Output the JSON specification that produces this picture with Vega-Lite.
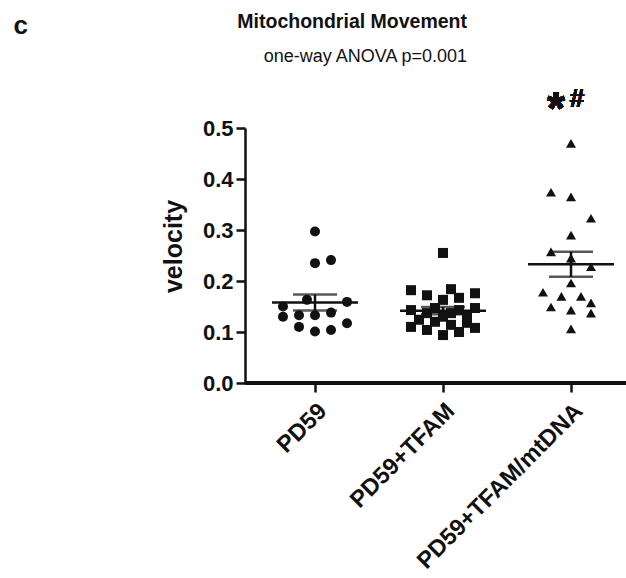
{
  "$schema": "https://vega.github.io/schema/vega-lite/v6.json",
  "width": 381,
  "height": 255,
  "autosize": {"type": "none"},
  "padding": {"left": 245, "top": 128, "right": 0, "bottom": 195},
  "background": "white",
  "title": {
    "text": "Mitochondrial Movement",
    "subtitle": "one-way ANOVA p=0.001",
    "anchor": "end",
    "frame": "group",
    "dx": -159,
    "offset": -55,
    "font": "Liberation Sans",
    "fontSize": 19.5,
    "fontWeight": "bold",
    "color": "#111",
    "subtitleFont": "Liberation Sans",
    "subtitleFontSize": 18,
    "subtitleColor": "#111",
    "subtitlePadding": 16
  },
  "config": {
    "view": {"stroke": null},
    "font": "Liberation Sans",
    "axis": {"grid": false}
  },
  "data": {
    "values": [
      {"group": "PD59", "lane": 0, "velocity": 0.297},
      {"group": "PD59", "lane": 0, "velocity": 0.235},
      {"group": "PD59", "lane": 2, "velocity": 0.241},
      {"group": "PD59", "lane": -1, "velocity": 0.163},
      {"group": "PD59", "lane": 4, "velocity": 0.159},
      {"group": "PD59", "lane": -4, "velocity": 0.150},
      {"group": "PD59", "lane": -4, "velocity": 0.130},
      {"group": "PD59", "lane": -2, "velocity": 0.133},
      {"group": "PD59", "lane": 0, "velocity": 0.133},
      {"group": "PD59", "lane": 2, "velocity": 0.138},
      {"group": "PD59", "lane": -2, "velocity": 0.110},
      {"group": "PD59", "lane": 0, "velocity": 0.101},
      {"group": "PD59", "lane": 2, "velocity": 0.104},
      {"group": "PD59", "lane": 4, "velocity": 0.117},
      {"group": "PD59+TFAM", "lane": 0, "velocity": 0.255},
      {"group": "PD59+TFAM", "lane": -4, "velocity": 0.182},
      {"group": "PD59+TFAM", "lane": -2, "velocity": 0.172},
      {"group": "PD59+TFAM", "lane": 1, "velocity": 0.184},
      {"group": "PD59+TFAM", "lane": 4, "velocity": 0.176},
      {"group": "PD59+TFAM", "lane": 2, "velocity": 0.167},
      {"group": "PD59+TFAM", "lane": 0, "velocity": 0.163},
      {"group": "PD59+TFAM", "lane": -4, "velocity": 0.143},
      {"group": "PD59+TFAM", "lane": 4, "velocity": 0.147},
      {"group": "PD59+TFAM", "lane": -2, "velocity": 0.137},
      {"group": "PD59+TFAM", "lane": 1, "velocity": 0.137},
      {"group": "PD59+TFAM", "lane": -1, "velocity": 0.147},
      {"group": "PD59+TFAM", "lane": 2, "velocity": 0.143},
      {"group": "PD59+TFAM", "lane": -4, "velocity": 0.110},
      {"group": "PD59+TFAM", "lane": -2, "velocity": 0.104},
      {"group": "PD59+TFAM", "lane": 0, "velocity": 0.094},
      {"group": "PD59+TFAM", "lane": 2, "velocity": 0.100},
      {"group": "PD59+TFAM", "lane": 4, "velocity": 0.108},
      {"group": "PD59+TFAM", "lane": -1, "velocity": 0.120},
      {"group": "PD59+TFAM", "lane": 1, "velocity": 0.114},
      {"group": "PD59+TFAM", "lane": 3, "velocity": 0.118},
      {"group": "PD59+TFAM", "lane": -3, "velocity": 0.124},
      {"group": "PD59+TFAM", "lane": 0, "velocity": 0.130},
      {"group": "PD59+TFAM", "lane": 3, "velocity": 0.130},
      {"group": "PD59+TFAM/mtDNA", "lane": 0, "velocity": 0.470},
      {"group": "PD59+TFAM/mtDNA", "lane": -2.5, "velocity": 0.374},
      {"group": "PD59+TFAM/mtDNA", "lane": 0, "velocity": 0.365},
      {"group": "PD59+TFAM/mtDNA", "lane": 2.5, "velocity": 0.323},
      {"group": "PD59+TFAM/mtDNA", "lane": 0, "velocity": 0.290},
      {"group": "PD59+TFAM/mtDNA", "lane": -2.5, "velocity": 0.257},
      {"group": "PD59+TFAM/mtDNA", "lane": 0, "velocity": 0.245},
      {"group": "PD59+TFAM/mtDNA", "lane": 2.5, "velocity": 0.228},
      {"group": "PD59+TFAM/mtDNA", "lane": 0, "velocity": 0.196},
      {"group": "PD59+TFAM/mtDNA", "lane": -3.5, "velocity": 0.178},
      {"group": "PD59+TFAM/mtDNA", "lane": -1.2, "velocity": 0.170},
      {"group": "PD59+TFAM/mtDNA", "lane": 1.25, "velocity": 0.170},
      {"group": "PD59+TFAM/mtDNA", "lane": 2.5, "velocity": 0.157},
      {"group": "PD59+TFAM/mtDNA", "lane": -2.5, "velocity": 0.149},
      {"group": "PD59+TFAM/mtDNA", "lane": 0, "velocity": 0.143},
      {"group": "PD59+TFAM/mtDNA", "lane": 2.5, "velocity": 0.137},
      {"group": "PD59+TFAM/mtDNA", "lane": 0, "velocity": 0.106}
    ]
  },
  "layer": [
    {
      "mark": {"type": "rule", "color": "#111", "strokeWidth": 2.5},
      "encoding": {"y": {"datum": 0, "type": "quantitative"}}
    },
    {
      "mark": {"type": "point", "filled": true, "opacity": 1, "color": "#111", "size": 100},
      "encoding": {
        "x": {
          "field": "group", "type": "nominal", "title": "c",
          "sort": ["PD59", "PD59+TFAM", "PD59+TFAM/mtDNA"],
          "scale": {"type": "band", "range": [6, 390], "paddingInner": 0, "paddingOuter": 0},
          "axis": {
            "domain": false, "labelAngle": -45, "labelAlign": "right", "labelBaseline": "middle",
            "labelFont": "Liberation Sans", "labelFontSize": 23.5, "labelFontWeight": "bold", "labelColor": "#111",
            "labelPadding": 15, "labelOffset": 8, "labelLimit": 400,
            "ticks": true, "tickSize": 9, "tickWidth": 2.5, "tickColor": "#111",
            "titleX": -232, "titleY": -350, "titleAngle": 0, "titleAlign": "left", "titleBaseline": "alphabetic",
            "titleFont": "Liberation Sans", "titleFontSize": 26, "titleFontWeight": "bold", "titleColor": "#111"
          }
        },
        "xOffset": {"field": "lane", "type": "quantitative", "scale": {"domain": [-8, 8]}},
        "y": {
          "field": "velocity", "type": "quantitative", "title": "velocity",
          "scale": {"domain": [0, 0.5], "nice": false},
          "axis": {
            "values": [0, 0.1, 0.2, 0.3, 0.4, 0.5], "format": ".1f",
            "labelFont": "Liberation Sans", "labelFontSize": 22, "labelFontWeight": "bold", "labelColor": "#111",
            "labelPadding": 3, "tickSize": 9, "tickWidth": 2.5, "tickColor": "#111",
            "domainWidth": 2.5, "domainColor": "#111",
            "titleFont": "Liberation Sans", "titleFontSize": 25, "titleFontWeight": "bold", "titleColor": "#111",
            "titlePadding": 16, "titleY": 118
          }
        },
        "shape": {
          "field": "group", "type": "nominal", "legend": null,
          "scale": {"domain": ["PD59", "PD59+TFAM", "PD59+TFAM/mtDNA"], "range": ["circle", "square", "triangle-up"]}
        }
      }
    },
    {
      "mark": {"type": "tick", "color": "#111", "size": 86, "thickness": 2.5},
      "encoding": {
        "x": {"field": "group", "type": "nominal", "title": "c"},
        "y": {"aggregate": "mean", "field": "velocity", "type": "quantitative", "title": "velocity"}
      }
    },
    {
      "mark": {"type": "errorbar", "extent": "stderr", "color": "#111", "thickness": 2.5, "ticks": {"size": 44, "thickness": 2.5, "color": "#111"}},
      "encoding": {
        "x": {"field": "group", "type": "nominal", "title": "c"},
        "y": {"field": "velocity", "type": "quantitative", "title": "velocity"}
      }
    },
    {
      "mark": {"type": "text", "text": "*", "font": "Liberation Sans", "fontSize": 46, "fontWeight": "bold", "color": "#111", "align": "center", "baseline": "alphabetic", "dx": -15, "dy": -4},
      "encoding": {
        "x": {"datum": "PD59+TFAM/mtDNA", "type": "nominal"},
        "y": {"datum": 0.5, "type": "quantitative"}
      }
    },
    {
      "mark": {"type": "text", "text": "#", "font": "Liberation Sans", "fontSize": 26, "fontWeight": "bold", "color": "#111", "align": "center", "baseline": "alphabetic", "dx": 6, "dy": -21},
      "encoding": {
        "x": {"datum": "PD59+TFAM/mtDNA", "type": "nominal"},
        "y": {"datum": 0.5, "type": "quantitative"}
      }
    }
  ]
}
